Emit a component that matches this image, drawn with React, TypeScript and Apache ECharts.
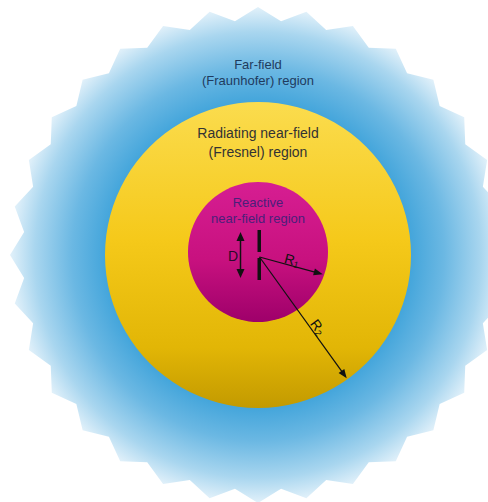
import React, { useEffect, useRef } from "react";
import * as echarts from "echarts";

// ---- content (text) ----
const regionLabels: string[] = [
  "Far-field\n(Fraunhofer) region",
  "Radiating near-field\n(Fresnel) region",
  "Reactive\nnear-field region",
];
const radiusNames: string[] = ["R", "R"];
const radiusIndices: string[] = ["1", "2"];
const dimensionLabels: string[] = ["D"];
const starPointCount: number[] = [32];

// ---- layout constants ----
const W = 488;
const H = 502;
const CX = 258;
const CY = 255;
const FONT = "'Liberation Sans', Arial, sans-serif";

function starPolygon(n: number, rOut: number, rIn: number): number[][] {
  const pts: number[][] = [];
  const step = Math.PI / n;
  for (let i = 0; i < 2 * n; i++) {
    const a = -Math.PI / 2 + i * step;
    const r = i % 2 === 0 ? rOut : rIn;
    pts.push([CX + r * Math.cos(a), CY + r * Math.sin(a)]);
  }
  return pts;
}

function arrow(
  x1: number,
  y1: number,
  x2: number,
  y2: number,
  both: boolean,
  lineWidth: number,
  headLen: number,
  headW: number
): any[] {
  const dx = x2 - x1;
  const dy = y2 - y1;
  const len = Math.sqrt(dx * dx + dy * dy);
  const ux = dx / len;
  const uy = dy / len;
  const els: any[] = [];
  const sx = both ? x1 + ux * headLen * 0.8 : x1;
  const sy = both ? y1 + uy * headLen * 0.8 : y1;
  const ex = x2 - ux * headLen * 0.8;
  const ey = y2 - uy * headLen * 0.8;
  els.push({
    type: "line",
    shape: { x1: sx, y1: sy, x2: ex, y2: ey },
    style: { stroke: "#111", lineWidth },
  });
  const head = (tx: number, ty: number, dirx: number, diry: number) => ({
    type: "polygon",
    shape: {
      points: [
        [tx, ty],
        [tx - dirx * headLen - diry * headW / 2, ty - diry * headLen + dirx * headW / 2],
        [tx - dirx * headLen + diry * headW / 2, ty - diry * headLen - dirx * headW / 2],
      ],
    },
    style: { fill: "#111" },
  });
  els.push(head(x2, y2, ux, uy));
  if (both) els.push(head(x1, y1, -ux, -uy));
  return els;
}

export default function App() {
  const ref = useRef<HTMLDivElement>(null);
  useEffect(() => {
    if (!ref.current) return;
    const chart = echarts.init(ref.current, undefined, { renderer: "svg" });

    const blue = new echarts.graphic.RadialGradient(0.5, 0.5, 0.5, [
      { offset: 0, color: "#2e95d3" },
      { offset: 0.6, color: "#3fa3da" },
      { offset: 0.75, color: "#6bb8e3" },
      { offset: 0.9, color: "#a9d6ef" },
      { offset: 1, color: "#e2f1fa" },
    ]);
    const yellow = new echarts.graphic.LinearGradient(0, 0, 0, 1, [
      { offset: 0, color: "#fbdc4e" },
      { offset: 0.45, color: "#f5c91a" },
      { offset: 0.8, color: "#e2b606" },
      { offset: 1, color: "#c39a00" },
    ]);
    const pink = new echarts.graphic.LinearGradient(0, 0, 0, 1, [
      { offset: 0, color: "#d61e92" },
      { offset: 0.55, color: "#c8117f" },
      { offset: 1, color: "#9e006a" },
    ]);

    const rLabel = (i: number) => ({
      text: `{r|${radiusNames[i]}}{s|${radiusIndices[i]}}`,
      fontFamily: FONT,
      align: "center",
      verticalAlign: "middle",
      rich: {
        r: { fontSize: 14, fill: "#111", fontFamily: FONT },
        s: { fontSize: 9, fill: "#111", fontFamily: FONT, padding: [7, 0, 0, 0] },
      },
    });

    const elements: any[] = [
      {
        type: "rect",
        shape: { x: 0, y: 0, width: W, height: H },
        style: { fill: "#ffffff" },
      },
      {
        type: "polygon",
        shape: { points: starPolygon(starPointCount[0], 248, 235) },
        style: { fill: blue },
      },
      {
        type: "circle",
        shape: { cx: CX, cy: CY, r: 153 },
        style: { fill: yellow },
      },
      {
        type: "circle",
        shape: { cx: CX, cy: 252, r: 70 },
        style: { fill: pink },
      },
      {
        type: "text",
        x: CX,
        y: 72,
        style: {
          text: regionLabels[0],
          fontFamily: FONT,
          fontSize: 13,
          lineHeight: 16,
          fill: "#1f3b5e",
          align: "center",
          verticalAlign: "middle",
        },
      },
      {
        type: "text",
        x: CX,
        y: 142,
        style: {
          text: regionLabels[1],
          fontFamily: FONT,
          fontSize: 14,
          lineHeight: 19,
          fill: "#333333",
          align: "center",
          verticalAlign: "middle",
        },
      },
      {
        type: "text",
        x: CX,
        y: 210,
        style: {
          text: regionLabels[2],
          fontFamily: FONT,
          fontSize: 13,
          lineHeight: 16,
          fill: "#4b1f7a",
          align: "center",
          verticalAlign: "middle",
        },
      },
      // dipole
      {
        type: "rect",
        shape: { x: 257.5, y: 230, width: 3.5, height: 22 },
        style: { fill: "#111" },
      },
      {
        type: "rect",
        shape: { x: 257.5, y: 258, width: 3.5, height: 22 },
        style: { fill: "#111" },
      },
      ...arrow(240.5, 232, 240.5, 278, true, 1.5, 9, 8),
      ...arrow(259.5, 257, 322.7, 274.3, false, 1.2, 9, 7),
      ...arrow(259.5, 257, 346.7, 378.3, false, 1.2, 9, 7),
      {
        type: "text",
        x: 233,
        y: 256,
        style: {
          text: dimensionLabels[0],
          fontFamily: FONT,
          fontSize: 14,
          fill: "#2a0a2a",
          align: "center",
          verticalAlign: "middle",
        },
      },
      {
        type: "text",
        x: 292,
        y: 260,
        rotation: (-15 * Math.PI) / 180,
        style: rLabel(0),
      },
      {
        type: "text",
        x: 318,
        y: 327,
        rotation: (-54 * Math.PI) / 180,
        style: rLabel(1),
      },
    ];

    chart.setOption({
      animation: false,
      backgroundColor: "#ffffff",
      graphic: { elements },
    });
    return () => chart.dispose();
  }, []);

  return (
    <div
      ref={ref}
      style={{ position: "fixed", left: 0, top: 0, width: W, height: H }}
    />
  );
}
